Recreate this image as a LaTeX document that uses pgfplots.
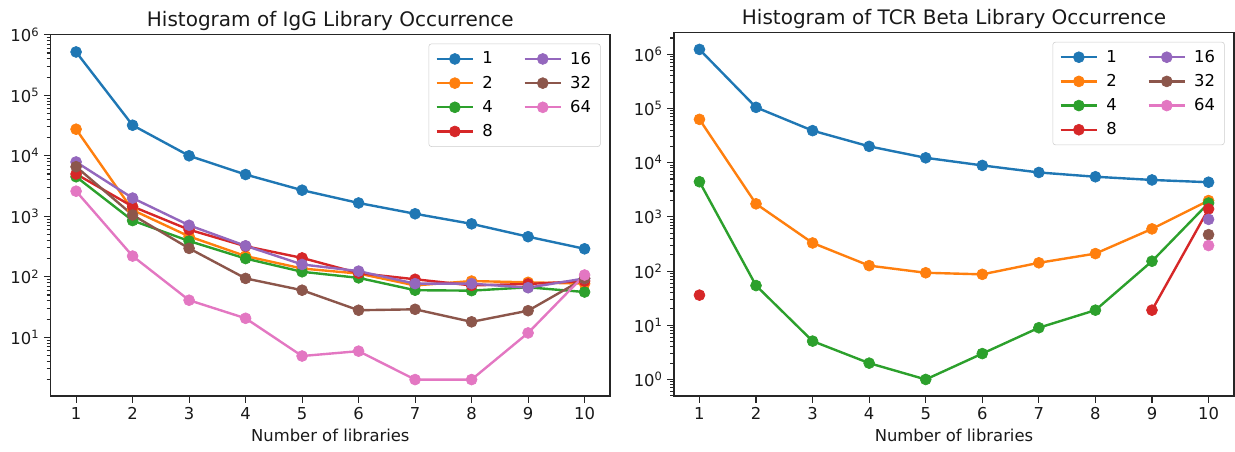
\documentclass[border=0pt]{standalone}
\usepackage{pgfplots}
\pgfplotsset{compat=1.18}
\usepackage{fontspec}
\setmainfont{DejaVu Sans}
\definecolor{c0}{HTML}{1F77B4}
\definecolor{c1}{HTML}{FF7F0E}
\definecolor{c2}{HTML}{2CA02C}
\definecolor{c3}{HTML}{D62728}
\definecolor{c4}{HTML}{9467BD}
\definecolor{c5}{HTML}{8C564B}
\definecolor{c6}{HTML}{E377C2}
\newcommand{\tenp}[1]{10\textsuperscript{#1}}
\newcommand{\tfont}{\fontsize{12.3}{14}\selectfont}
\newcommand{\leg}{%
    \addlegendimage{c0, line width=1.8pt, mark=*, mark size=4.1pt}\addlegendentry{1}
    \addlegendimage{c4, line width=1.8pt, mark=*, mark size=4.1pt}\addlegendentry{16}
    \addlegendimage{c1, line width=1.8pt, mark=*, mark size=4.1pt}\addlegendentry{2}
    \addlegendimage{c5, line width=1.8pt, mark=*, mark size=4.1pt}\addlegendentry{32}
    \addlegendimage{c2, line width=1.8pt, mark=*, mark size=4.1pt}\addlegendentry{4}
    \addlegendimage{c6, line width=1.8pt, mark=*, mark size=4.1pt}\addlegendentry{64}
    \addlegendimage{c3, line width=1.8pt, mark=*, mark size=4.1pt}\addlegendentry{8}
}
\pgfplotsset{
  every axis/.append style={
    scale only axis, xmin=0.55, xmax=10.45,
    xtick={1,2,3,4,5,6,7,8,9,10},
    xticklabels={1,2,3,4,5,6,7,8,9,10},
    tick align=outside, tick pos=left,
    major tick length=5pt, minor tick length=3pt,
    tick style={black!85, line width=0.8pt},
    axis line style={black!85, line width=0.9pt},
    ticklabel style={font=\tfont, black!90},
    xlabel={Number of libraries},
    label style={font=\tfont, black!90},
    title style={font=\fontsize{15}{18}\selectfont, black!90, yshift=-6.5pt},
    unbounded coords=jump,
    legend columns=2, legend cell align=left,
    legend style={at={(1,1)}, anchor=north east, xshift=-7pt, yshift=-7pt,
      draw=black!20, rounded corners=2pt, font=\tfont, row sep=3.5pt,
      inner xsep=5pt, inner ysep=4pt,
      /tikz/every odd column/.append style={column sep=4pt},
      /tikz/every even column/.append style={column sep=21pt}},
  },
  every axis plot/.append style={line width=1.8pt, mark=*, mark size=4.1pt, mark options={line width=0.5pt}},
  legend image code/.code={\draw[mark repeat=2,mark phase=2] plot coordinates {(0cm,0cm) (0.48cm,0cm) (0.96cm,0cm)};},
}
\begin{document}
\begin{tikzpicture}
\useasboundingbox (0,0) rectangle (926.25pt,338.25pt);
% ---------------- left: IgG
\begin{axis}[ymode=log, at={(38.0pt,41.25pt)}, anchor=south west,
  width=419.5pt, height=271.3pt,
  ymin=1.07, ymax=1.02e6,
  ytick={10,100,1000,10000,100000,1000000},
  yticklabels={\tenp{1},\tenp{2},\tenp{3},\tenp{4},\tenp{5},\tenp{6}},
  minor ytick={2,3,4,5,6,7,8,9,20,30,40,50,60,70,80,90,200,300,400,500,600,700,800,900,2000,3000,4000,5000,6000,7000,8000,9000,20000,30000,40000,50000,60000,70000,80000,90000,200000,300000,400000,500000,600000,700000,800000,900000},
  title={Histogram of IgG Library Occurrence}]
\addplot[c0, forget plot] coordinates {(1,5.2e5) (2,3.2e4) (3,1.0e4) (4,4.9e3) (5,2.7e3) (6,1.66e3) (7,1.1e3) (8,750) (9,460) (10,290)};
\addplot[c1, forget plot] coordinates {(1,2.75e4) (2,1270) (3,465) (4,220) (5,137) (6,113) (7,72) (8,85) (9,81) (10,77)};
\addplot[c2, forget plot] coordinates {(1,4500) (2,850) (3,390) (4,200) (5,121) (6,96) (7,60) (8,59) (9,67) (10,56)};
\addplot[c3, forget plot] coordinates {(1,5000) (2,1450) (3,600) (4,320) (5,205) (6,115) (7,91) (8,72) (9,76) (10,85)};
\addplot[c4, forget plot] coordinates {(1,7900) (2,2000) (3,710) (4,325) (5,160) (6,124) (7,77) (8,77) (9,66) (10,94)};
\addplot[c5, forget plot] coordinates {(1,6600) (2,1050) (3,295) (4,94) (5,60) (6,28) (7,29) (8,18) (9,27.5) (10,94)};
\addplot[c6, forget plot] coordinates {(1,2600) (2,220) (3,41) (4,20.6) (5,4.9) (6,5.9) (7,2) (8,2) (9,11.8) (10,107)};
\leg
\end{axis}
% ---------------- right: TCR beta
\begin{axis}[ymode=log, at={(505.5pt,41.25pt)}, anchor=south west,
  width=420pt, height=272.6pt,
  ymin=0.495, ymax=2.52e6,
  ytick={1,10,100,1000,10000,100000,1000000},
  yticklabels={\tenp{0},\tenp{1},\tenp{2},\tenp{3},\tenp{4},\tenp{5},\tenp{6}},
  minor ytick={0.5,0.6,0.7,0.8,0.9,2,3,4,5,6,7,8,9,20,30,40,50,60,70,80,90,200,300,400,500,600,700,800,900,2000,3000,4000,5000,6000,7000,8000,9000,20000,30000,40000,50000,60000,70000,80000,90000,200000,300000,400000,500000,600000,700000,800000,900000,2000000},
  title={Histogram of TCR Beta Library Occurrence}]
\addplot[c0, forget plot] coordinates {(1,1.23e6) (2,1.05e5) (3,3.9e4) (4,2.0e4) (5,1.23e4) (6,8.9e3) (7,6.6e3) (8,5.5e3) (9,4.8e3) (10,4.36e3)};
\addplot[c1, forget plot] coordinates {(1,6.3e4) (2,1740) (3,330) (4,126) (5,93) (6,87) (7,142) (8,210) (9,600) (10,2000)};
\addplot[c2, forget plot] coordinates {(1,4450) (2,54) (3,5.1) (4,2) (5,1) (6,3) (7,9) (8,19) (9,152) (10,1800)};
\addplot[c3, forget plot] coordinates {(1,36) (2,nan) (3,nan) (4,nan) (5,nan) (6,nan) (7,nan) (8,nan) (9,19) (10,1400)};
\addplot[c4, forget plot] coordinates {(10,900)};
\addplot[c5, forget plot] coordinates {(10,470)};
\addplot[c6, forget plot] coordinates {(10,296)};
\leg
\end{axis}
\end{tikzpicture}
\end{document}
